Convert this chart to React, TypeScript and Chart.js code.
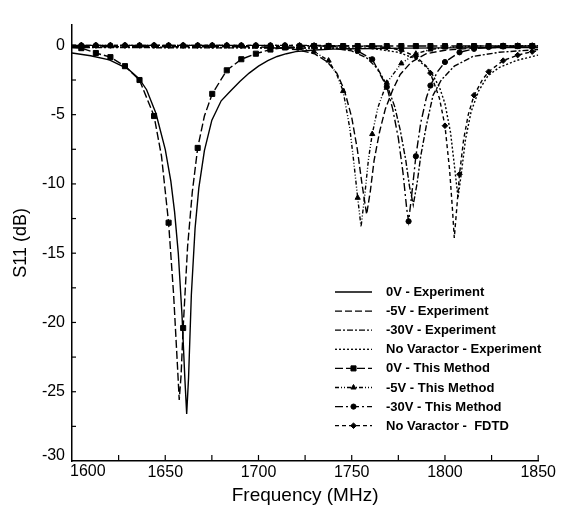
import React, { useEffect, useRef } from "react";
import { Chart, registerables } from "chart.js";
Chart.register(...registerables);

type Pt = [number, number];

const X_TICKS = [1600, 1650, 1700, 1750, 1800, 1850];
const X_MARKS = [1625, 1650, 1675, 1700, 1725, 1750, 1775, 1800, 1825, 1850];
const Y_TICKS = [-30, -25, -20, -15, -10, -5, 0];
const Y_MARKS = [-27.5, -25, -22.5, -20, -17.5, -15, -12.5, -10, -7.5, -5, -2.5, 0];

const SERIES_NAMES = [
  "0V - Experiment",
  "-5V - Experiment",
  "-30V - Experiment",
  "No Varactor - Experiment",
  "0V - This Method",
  "-5V - This Method",
  "-30V - This Method",
  "No Varactor -  FDTD",
];

// frequencies where the computed ("This Method" / FDTD) series carry markers
const MARKER_GRID = [
  1605, 1612.8, 1620.6, 1628.4, 1636.2, 1644, 1651.8, 1659.6, 1667.4, 1675.2, 1683, 1690.8,
  1698.6, 1706.4, 1714.2, 1722, 1729.8, 1737.6, 1745.4, 1753.2, 1761, 1768.8, 1776.6, 1784.4,
  1792.2, 1800, 1807.8, 1815.6, 1823.4, 1831.2, 1839, 1846.8,
];
const EXTRA_MARKS_30V = [1780.5];

const exp0V: Pt[] = [
  [1600, -0.55], [1610, -0.75], [1620, -1.05], [1630, -1.7], [1636, -2.4], [1640, -3.2],
  [1645, -4.9], [1650, -7.5], [1653, -9.8], [1655, -12.0], [1657, -15.0], [1659, -19.5],
  [1660.5, -24.0], [1661.5, -26.6], [1662.5, -24.0], [1664, -18.0], [1666, -13.2], [1668, -10.3],
  [1671, -7.6], [1675, -5.4], [1680, -4.0], [1685, -3.3], [1690, -2.6], [1695, -2.0],
  [1700, -1.5], [1705, -1.1], [1710, -0.8], [1715, -0.6], [1720, -0.45], [1730, -0.33],
  [1740, -0.27], [1760, -0.22], [1780, -0.2], [1800, -0.18], [1825, -0.16], [1850, -0.15],
];

const exp5V: Pt[] = [
  [1600, -0.1], [1700, -0.1], [1720, -0.3], [1730, -0.6], [1737, -1.2], [1742, -2.0],
  [1746, -3.2], [1750, -5.2], [1753, -7.5], [1755.5, -10.0], [1758, -12.2], [1760, -10.5],
  [1762, -8.3], [1765, -6.2], [1768, -4.6], [1772, -3.2], [1776, -2.1], [1782, -1.2],
  [1790, -0.6], [1800, -0.35], [1815, -0.2], [1850, -0.1],
];

const exp30V: Pt[] = [
  [1600, -0.15], [1740, -0.2], [1750, -0.4], [1758, -0.9], [1764, -1.7], [1769, -2.9],
  [1773, -4.4], [1776, -6.1], [1779, -8.3], [1781, -10.2], [1783, -11.5], [1785, -10.0],
  [1787, -8.0], [1790, -5.8], [1793.6, -3.6], [1798, -2.5], [1805, -1.5], [1815, -0.8],
  [1829, -0.5], [1850, -0.3],
];

const expNoVar: Pt[] = [
  [1600, -0.1], [1760, -0.2], [1775, -0.5], [1785, -1.0], [1792, -1.8], [1797, -3.0],
  [1800, -4.2], [1803, -6.3], [1805, -8.6], [1807, -11.0], [1809, -9.0], [1811, -6.8],
  [1814, -4.8], [1818, -3.3], [1823, -2.2], [1829, -1.6], [1838, -1.1], [1850, -0.7],
];

const method0V: Pt[] = [
  [1600, -0.15], [1605, -0.2], [1612.8, -0.55], [1620.6, -0.85], [1628.4, -1.5], [1636.2, -2.5],
  [1644, -5.1], [1648, -8.0], [1651.8, -12.8], [1654.5, -18.0], [1656.5, -23.0], [1657.5, -25.6],
  [1658.5, -23.8], [1659.6, -20.4], [1662, -14.5], [1664.5, -10.6], [1667.4, -7.4], [1671, -5.1],
  [1675.2, -3.5], [1683, -1.8], [1690.8, -1.0], [1698.6, -0.6], [1706.4, -0.3], [1714.2, -0.15],
  [1722, -0.1], [1729.8, -0.05], [1737.6, -0.05], [1745.4, -0.05], [1753.2, -0.05], [1761, -0.05],
  [1768.8, -0.05], [1776.6, -0.05], [1784.4, -0.05], [1792.2, -0.05], [1800, -0.05], [1807.8, -0.05],
  [1815.6, -0.05], [1823.4, -0.05], [1831.2, -0.05], [1839, -0.05], [1846.8, -0.05], [1850, -0.05],
];

const method5V: Pt[] = [
  [1600, 0], [1605, 0], [1612.8, 0], [1620.6, 0], [1628.4, 0], [1636.2, 0], [1644, 0],
  [1651.8, 0], [1659.6, 0], [1667.4, 0], [1675.2, 0], [1683, 0], [1690.8, -0.02], [1698.6, -0.03],
  [1706.4, -0.05], [1714.2, -0.1], [1722, -0.2], [1729.8, -0.45], [1737.6, -1.1], [1742, -2.1],
  [1745.4, -3.3], [1749, -6.0], [1751, -8.3], [1753.2, -11.0], [1755, -13.1], [1757, -10.8],
  [1759, -8.2], [1761, -6.4], [1764, -4.5], [1768.8, -2.7], [1776.6, -1.3], [1784.4, -0.6],
  [1792.2, -0.3], [1800, -0.15], [1807.8, -0.1], [1815.6, -0.05], [1823.4, -0.05], [1831.2, -0.03],
  [1839, -0.02], [1846.8, -0.02], [1850, -0.02],
];

const method30V: Pt[] = [
  [1600, 0], [1605, 0], [1612.8, 0], [1620.6, 0], [1628.4, 0], [1636.2, 0], [1644, 0],
  [1651.8, 0], [1659.6, 0], [1667.4, 0], [1675.2, 0], [1683, 0], [1690.8, 0], [1698.6, 0],
  [1706.4, 0], [1714.2, 0], [1722, -0.02], [1729.8, -0.03], [1737.6, -0.05], [1745.4, -0.15],
  [1753.2, -0.4], [1761, -1.0], [1768.8, -3.0], [1772, -4.6], [1775, -6.7], [1777.5, -9.2],
  [1779.5, -11.8], [1780.5, -12.7], [1782, -11.0], [1784.4, -8.0], [1787, -5.6], [1790, -3.8],
  [1792.2, -2.9], [1796, -1.9], [1800, -1.2], [1807.8, -0.5], [1815.6, -0.25], [1823.4, -0.12],
  [1831.2, -0.08], [1839, -0.05], [1846.8, -0.05], [1850, -0.05],
];

const fdtdNoVar: Pt[] = [
  [1600, 0], [1605, 0], [1612.8, 0], [1620.6, 0], [1628.4, 0], [1636.2, 0], [1644, 0],
  [1651.8, 0], [1659.6, 0], [1667.4, 0], [1675.2, 0], [1683, 0], [1690.8, 0], [1698.6, 0],
  [1706.4, 0], [1714.2, 0], [1722, 0], [1729.8, 0], [1737.6, -0.02], [1745.4, -0.03],
  [1753.2, -0.05], [1761, -0.08], [1768.8, -0.15], [1776.6, -0.35], [1784.4, -0.8], [1790, -1.5],
  [1792.2, -2.0], [1797, -3.8], [1800, -5.8], [1802.5, -9.0], [1804, -11.8], [1805, -13.9],
  [1806.3, -11.8], [1807.8, -9.3], [1810, -6.8], [1812.5, -5.0], [1815.6, -3.6], [1820, -2.5],
  [1823.4, -1.9], [1831.2, -1.1], [1839, -0.7], [1846.8, -0.45], [1850, -0.4],
];

const FONT = "'Liberation Sans', Arial, Helvetica, sans-serif";

function drawMarker(ctx: CanvasRenderingContext2D, style: string, r: number, x: number, y: number) {
  ctx.beginPath();
  if (style === "rect") {
    const s = r * Math.SQRT1_2;
    ctx.rect(x - s, y - s, 2 * s, 2 * s);
  } else if (style === "circle") {
    ctx.arc(x, y, r, 0, Math.PI * 2);
  } else if (style === "triangle") {
    ctx.moveTo(x, y - r);
    ctx.lineTo(x + r * 0.866, y + r * 0.5);
    ctx.lineTo(x - r * 0.866, y + r * 0.5);
    ctx.closePath();
  } else if (style === "rectRot") {
    ctx.moveTo(x, y - r);
    ctx.lineTo(x + r, y);
    ctx.lineTo(x, y + r);
    ctx.lineTo(x - r, y);
    ctx.closePath();
  }
  ctx.fill();
  ctx.stroke();
}

export default function App() {
  const ref = useRef<HTMLCanvasElement>(null);

  useEffect(() => {
    const canvas = ref.current;
    if (!canvas) return;

    const toXY = (a: Pt[]) => a.map(([x, y]) => ({ x, y }));
    const line = (
      label: string,
      data: Pt[],
      dash: number[],
      marker: string | false,
      radius: number,
      extra: number[] = []
    ) => ({
      label,
      data: toXY(data),
      borderColor: "#000",
      backgroundColor: "#000",
      borderWidth: 1.4,
      borderDash: dash,
      pointStyle: marker || "circle",
      pointBackgroundColor: "#000",
      pointBorderColor: "#000",
      pointBorderWidth: 1,
      pointRadius: marker
        ? (c: any) =>
            MARKER_GRID.includes(c.raw.x) || extra.includes(c.raw.x) ? radius : 0
        : 0,
      pointHoverRadius: 0,
      tension: 0,
      fill: false,
      _marker: marker,
      _radius: radius,
    });

    const datasets: any[] = [
      line(SERIES_NAMES[0], exp0V, [], false, 0),
      line(SERIES_NAMES[1], exp5V, [7, 3], false, 0),
      line(SERIES_NAMES[2], exp30V, [6, 2, 2, 2], false, 0),
      line(SERIES_NAMES[3], expNoVar, [2, 2], false, 0),
      line(SERIES_NAMES[4], method0V, [8, 3], "rect", 3.6),
      line(SERIES_NAMES[5], method5V, [4, 2, 1, 2, 1, 2], "triangle", 3),
      line(SERIES_NAMES[6], method30V, [8, 3, 2, 3], "circle", 2.6, EXTRA_MARKS_30V),
      line(SERIES_NAMES[7], fdtdNoVar, [4, 3], "rectRot", 2.8),
    ];

    const decor = {
      id: "decor",
      afterDraw(chart: any) {
        const { ctx, chartArea, scales } = chart;
        const xs = scales.x;
        const ys = scales.y;
        ctx.save();
        ctx.strokeStyle = "#000";
        ctx.lineWidth = 1.2;
        ctx.setLineDash([]);
        X_MARKS.forEach((v) => {
          const px = xs.getPixelForValue(v);
          ctx.beginPath();
          ctx.moveTo(px, chartArea.bottom);
          ctx.lineTo(px, chartArea.bottom - 6);
          ctx.stroke();
        });
        Y_MARKS.forEach((v) => {
          const py = ys.getPixelForValue(v);
          ctx.beginPath();
          ctx.moveTo(chartArea.left, py);
          ctx.lineTo(chartArea.left + 4, py);
          ctx.stroke();
        });
        // corner tick labels (placed as in the original, avoiding overlap)
        ctx.fillStyle = "#000";
        ctx.font = "16px " + FONT;
        ctx.textAlign = "left";
        ctx.textBaseline = "top";
        ctx.fillText(String(X_TICKS[0]), chartArea.left - 2, chartArea.bottom + 2.5);
        ctx.textAlign = "right";
        ctx.textBaseline = "middle";
        ctx.fillText(String(Y_TICKS[0]), chartArea.left - 7, ys.getPixelForValue(Y_TICKS[0]) - 5);
        // legend
        const x0 = 327;
        const x1 = 364;
        const tx = 378;
        const y0 = 284;
        const dy = 19.1;
        ctx.font = "bold 13px " + FONT;
        ctx.textBaseline = "middle";
        ctx.textAlign = "left";
        datasets.forEach((ds, i) => {
          const y = y0 + i * dy;
          ctx.save();
          ctx.lineWidth = 1.3;
          ctx.setLineDash(ds.borderDash);
          ctx.beginPath();
          ctx.moveTo(x0, y);
          ctx.lineTo(x1, y);
          ctx.stroke();
          ctx.restore();
          if (ds._marker) {
            ctx.save();
            ctx.setLineDash([]);
            ctx.fillStyle = "#000";
            ctx.strokeStyle = "#000";
            ctx.lineWidth = 1;
            drawMarker(ctx, ds._marker, ds._radius, (x0 + x1) / 2, y);
            ctx.restore();
          }
          ctx.fillText(ds.label, tx, y + 0.5);
        });
        ctx.restore();
      },
    };

    const chart = new Chart(canvas, {
      type: "line",
      data: { datasets },
      options: {
        animation: false,
        responsive: false,
        maintainAspectRatio: false,
        events: [],
        layout: { padding: { top: 10, right: 13, left: 0, bottom: 0 } },
        plugins: {
          legend: { display: false },
          tooltip: { enabled: false },
        },
        scales: {
          x: {
            type: "linear",
            min: 1600,
            max: 1850,
            afterBuildTicks: (s: any) => {
              s.ticks = X_TICKS.map((value) => ({ value }));
            },
            afterFit: (s: any) => {
              s.height = 48;
            },
            ticks: {
              autoSkip: false,
              maxRotation: 0,
              padding: 2,
              color: "#000",
              font: { family: FONT, size: 16 },
              callback: (v: any) => (v === X_TICKS[0] ? "" : String(v)),
            },
            grid: { display: false, drawTicks: false },
            border: { display: true, color: "#000", width: 1.5 },
            title: {
              display: true,
              text: "Frequency (MHz)",
              color: "#000",
              font: { family: FONT, size: 19 },
              padding: { top: 0, bottom: 2 },
            },
          },
          y: {
            type: "linear",
            min: -30,
            max: 1.5,
            afterBuildTicks: (s: any) => {
              s.ticks = Y_TICKS.map((value) => ({ value }));
            },
            afterFit: (s: any) => {
              s.width = 64;
            },
            ticks: {
              autoSkip: false,
              padding: 7,
              color: "#000",
              font: { family: FONT, size: 16 },
              callback: (v: any) => (v === Y_TICKS[0] ? "" : String(v)),
            },
            grid: { display: false, drawTicks: false },
            border: { display: true, color: "#000", width: 1.5 },
            title: {
              display: true,
              text: "S11 (dB)",
              color: "#000",
              font: { family: FONT, size: 18 },
              padding: { top: 2, bottom: 0 },
            },
          },
        },
      },
      plugins: [decor],
    } as any);

    return () => chart.destroy();
  }, []);

  return (
    <div style={{ width: 550, height: 501 }}>
      <canvas ref={ref} width={550} height={501} style={{ width: 550, height: 501, display: "block" }} />
    </div>
  );
}
